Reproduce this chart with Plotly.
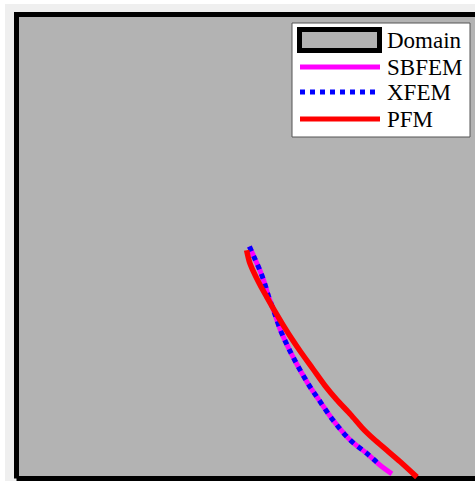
import plotly.graph_objects as go

# Domain (unit square)
domain_x = [0, 1, 1, 0, 0]
domain_y = [0, 0, 1, 1, 0]

# Crack paths (domain units)
sbfem_x = [0.502, 0.513, 0.524, 0.534, 0.544, 0.555, 0.568, 0.583, 0.597, 0.615, 0.633, 0.650, 0.682, 0.719, 0.755, 0.783, 0.809]
sbfem_y = [0.500, 0.475, 0.450, 0.423, 0.390, 0.360, 0.322, 0.288, 0.260, 0.227, 0.197, 0.172, 0.126, 0.083, 0.054, 0.029, 0.010]

xfem_x = [0.502, 0.513, 0.524, 0.534, 0.544, 0.555, 0.568, 0.583, 0.597, 0.615, 0.633, 0.650, 0.682, 0.719, 0.755, 0.781]
xfem_y = [0.500, 0.475, 0.450, 0.423, 0.390, 0.360, 0.322, 0.288, 0.260, 0.227, 0.197, 0.172, 0.126, 0.083, 0.054, 0.031]

pfm_x = [0.496, 0.502, 0.512, 0.525, 0.540, 0.557, 0.575, 0.594, 0.613, 0.639, 0.665, 0.690, 0.720, 0.747, 0.770, 0.798, 0.827, 0.863]
pfm_y = [0.492, 0.467, 0.443, 0.417, 0.390, 0.360, 0.330, 0.300, 0.272, 0.236, 0.200, 0.170, 0.138, 0.107, 0.085, 0.061, 0.036, 0.003]

legend_labels = ["Domain", "SBFEM", "XFEM", "PFM"]

W, H = 475, 481
S = 464.0  # px per domain unit
X0, Y0 = 16.5, 478.5  # pixel of domain origin

fig = go.Figure()
fig.add_trace(go.Scatter(x=domain_x, y=domain_y, mode="lines", fill="toself",
                         fillcolor="#b3b3b3", line=dict(color="black", width=5),
                         hoverinfo="skip"))
fig.add_trace(go.Scatter(x=sbfem_x, y=sbfem_y, mode="lines",
                         line=dict(color="#ff00ff", width=5, shape="spline", smoothing=1)))
fig.add_trace(go.Scatter(x=xfem_x, y=xfem_y, mode="lines",
                         line=dict(color="#0000ff", width=5, dash="dot", shape="spline", smoothing=1)))
fig.add_trace(go.Scatter(x=pfm_x, y=pfm_y, mode="lines",
                         line=dict(color="#ff0000", width=5.5, shape="spline", smoothing=0.8)))

def px(x):
    return x / W

def py(y):
    return 1 - y / H

shapes = [
    dict(type="rect", xref="paper", yref="paper", x0=px(5), x1=1, y0=0, y1=py(4),
         fillcolor="#efefef", line=dict(width=0), layer="below"),
    # legend box
    dict(type="rect", xref="paper", yref="paper", x0=px(292), x1=px(470), y0=py(137), y1=py(23),
         fillcolor="white", line=dict(color="#555555", width=1), layer="above"),
    dict(type="rect", xref="paper", yref="paper", x0=px(299.5), x1=px(379.5), y0=py(50.5), y1=py(29.5),
         fillcolor="#b3b3b3", line=dict(color="black", width=5), layer="above"),
    dict(type="line", xref="paper", yref="paper", x0=px(300), x1=px(380), y0=py(67), y1=py(67),
         line=dict(color="#ff00ff", width=5), layer="above"),
    dict(type="line", xref="paper", yref="paper", x0=px(300), x1=px(380), y0=py(92), y1=py(92),
         line=dict(color="#0000ff", width=5, dash="dot"), layer="above"),
    dict(type="line", xref="paper", yref="paper", x0=px(300), x1=px(380), y0=py(119), y1=py(119),
         line=dict(color="#ff0000", width=5), layer="above"),
]

annotations = []
for lab, yy in zip(legend_labels, [40, 67, 92, 119]):
    annotations.append(dict(text=lab, xref="paper", yref="paper", x=px(385), y=py(yy),
                            xanchor="left", yanchor="middle", showarrow=False,
                            font=dict(family="Liberation Serif", size=23, color="black")))

fig.update_layout(
    width=W, height=H,
    margin=dict(l=0, r=0, t=0, b=0, autoexpand=False),
    paper_bgcolor="white", plot_bgcolor="rgba(0,0,0,0)",
    showlegend=False,
    shapes=shapes, annotations=annotations,
    xaxis=dict(range=[-X0 / S, (W - X0) / S], visible=False, fixedrange=True),
    yaxis=dict(range=[(Y0 - H) / S, Y0 / S], visible=False, fixedrange=True),
)

fig.write_html("out.html")
